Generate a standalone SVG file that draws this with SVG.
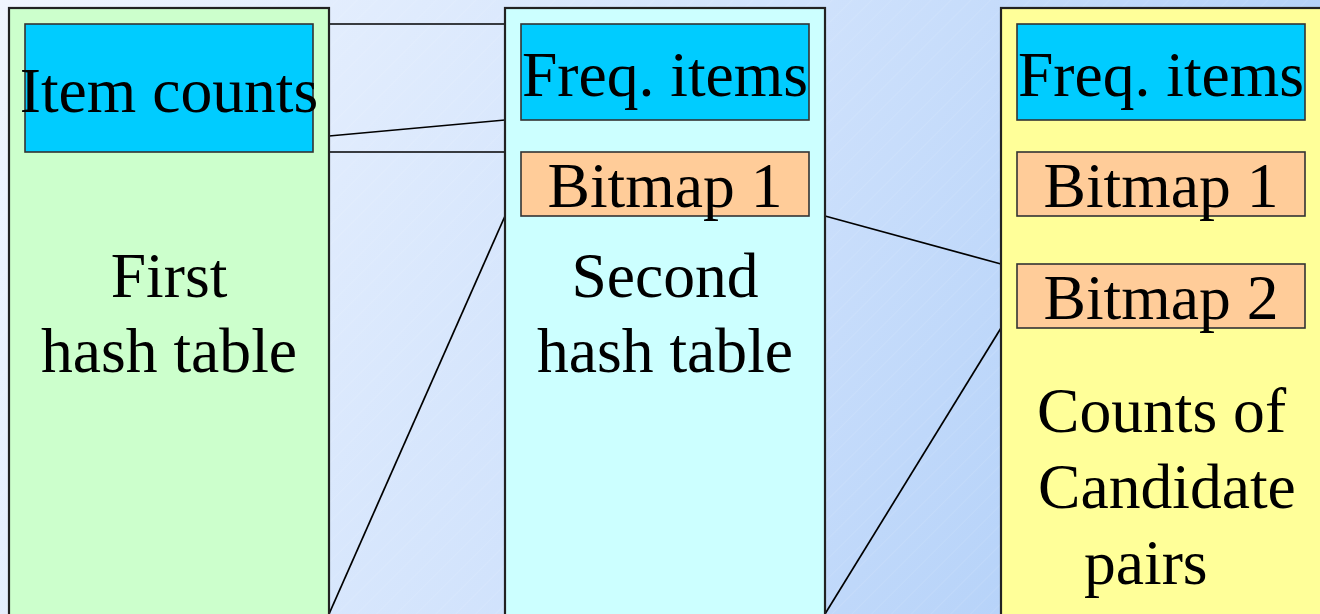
<svg xmlns="http://www.w3.org/2000/svg" width="1320" height="614" viewBox="0 0 1320 614">
<defs>
<linearGradient id="bg" x1="0" y1="0" x2="1320" y2="614" gradientUnits="userSpaceOnUse">
<stop offset="0" stop-color="#f0f5fe"/>
<stop offset="0.5" stop-color="#d0e2fc"/>
<stop offset="1" stop-color="#a6c9f7"/>
</linearGradient>
<pattern id="hatch" width="14" height="14" patternUnits="userSpaceOnUse" patternTransform="rotate(45)">
<line x1="0" y1="0" x2="0" y2="14" stroke="#ffffff" stroke-opacity="0.18" stroke-width="1"/>
</pattern>
</defs>
<style>
.col{stroke:#222;stroke-width:2.2}
.box{stroke:#333;stroke-width:1.6}
.blue{fill:#00ccff}
.orange{fill:#ffcc99}
.t{font-family:"Liberation Serif","Times New Roman",serif;font-size:63.6px;fill:#000}
.c{text-anchor:middle}
.conn line{stroke:#000;stroke-width:1.7}
</style>
<rect width="1320" height="614" fill="url(#bg)"/>
<rect width="1320" height="614" fill="url(#hatch)"/>
<g class="conn" id="connectors">
<line x1="329" y1="24" x2="505" y2="24"/>
<line x1="329" y1="136" x2="505" y2="120"/>
<line x1="329" y1="152" x2="505" y2="152"/>
<line x1="329" y1="614" x2="505" y2="216"/>
<line x1="825" y1="216" x2="1001" y2="264"/>
<line x1="825" y1="614" x2="1001" y2="328"/>
</g>
<g id="pass1">
<rect class="col" x="9" y="8" width="320" height="620" fill="#ccffcc"/>
<g id="item-counts">
<rect class="box blue" x="25" y="24" width="288" height="128"/>
<text class="t c" x="169" y="112">Item counts</text>
</g>
<text class="t c" x="169" y="297">First</text>
<text class="t c" x="169" y="372">hash table</text>
</g>
<g id="pass2">
<rect class="col" x="505" y="8" width="320" height="620" fill="#ccffff"/>
<g id="freq-items-2">
<rect class="box blue" x="521" y="24" width="288" height="96"/>
<text class="t c" x="665" y="96">Freq. items</text>
</g>
<g id="bitmap1-2">
<rect class="box orange" x="521" y="152" width="288" height="64"/>
<text class="t c" x="665" y="207">Bitmap 1</text>
</g>
<text class="t c" x="665" y="297">Second</text>
<text class="t c" x="665" y="372">hash table</text>
</g>
<g id="pass3">
<rect class="col" x="1001" y="8" width="340" height="620" fill="#ffff99"/>
<g id="freq-items-3">
<rect class="box blue" x="1017" y="24" width="288" height="96"/>
<text class="t c" x="1161" y="96">Freq. items</text>
</g>
<g id="bitmap1-3">
<rect class="box orange" x="1017" y="152" width="288" height="64"/>
<text class="t c" x="1161" y="207">Bitmap 1</text>
</g>
<g id="bitmap2-3">
<rect class="box orange" x="1017" y="264" width="288" height="64"/>
<text class="t c" x="1161" y="319">Bitmap 2</text>
</g>
<text class="t" x="1037" y="432">Counts of</text>
<text class="t" x="1038" y="508">Candidate</text>
<text class="t" x="1084" y="584">pairs</text>
</g>
</svg>
